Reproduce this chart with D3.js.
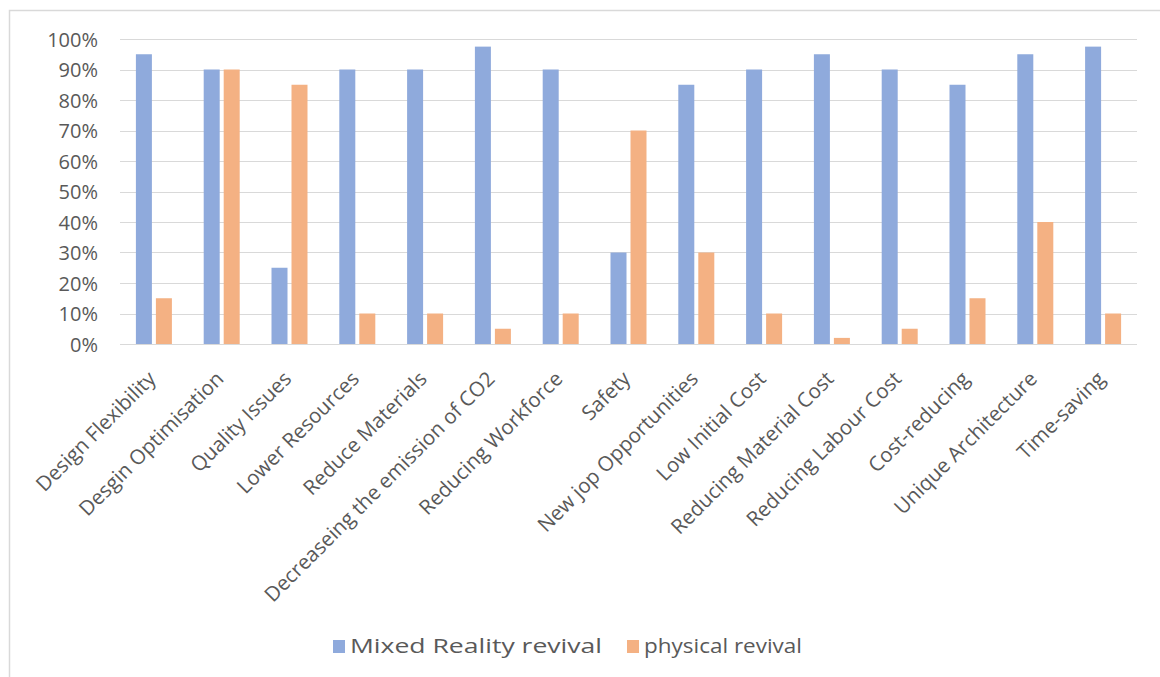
<!DOCTYPE html>
<html>
<head>
<meta charset="utf-8">
<script src="https://cdn.jsdelivr.net/npm/d3@7"></script>
<style>
  body { margin: 0; background: #fff; }
  svg text { font-family: "Open Sans", "Noto Sans", sans-serif; fill: #595959; }
</style>
</head>
<body>
<div id="chart"></div>
<script>
var categories = ["Design Flexibility", "Desgin Optimisation", "Quality Issues", "Lower Resources",
    "Reduce Materials", "Decreaseing the emission of CO2", "Reducing Workforce", "Safety",
    "New jop Opportunities", "Low Initial Cost", "Reducing Material Cost", "Reducing Labour Cost",
    "Cost-reducing", "Unique Architecture", "Time-saving"];
var mixedReality = [0.95, 0.90, 0.25, 0.90, 0.90, 0.975, 0.90, 0.30, 0.85, 0.90, 0.95, 0.90, 0.85, 0.95, 0.975];
var physical = [0.15, 0.90, 0.85, 0.10, 0.10, 0.05, 0.10, 0.70, 0.30, 0.10, 0.02, 0.05, 0.15, 0.40, 0.10];
var seriesNames = ["Mixed Reality revival", "physical revival"];
var seriesColors = ["#8FAADC", "#F4B183"];
var yTicks = [0, 0.1, 0.2, 0.3, 0.4, 0.5, 0.6, 0.7, 0.8, 0.9, 1.0];

var width = 1160, height = 677;
var svg = d3.select("#chart").append("svg")
    .attr("width", width)
    .attr("height", height);

// chart border, runs off the right and bottom edges
svg.append("rect")
    .attr("x", 9.5).attr("y", 10.5)
    .attr("width", 1200).attr("height", 700)
    .attr("fill", "none")
    .attr("stroke", "#d9d9d9")
    .attr("stroke-width", 1.5);

var plotLeft = 120, plotRight = 1137, plotTop = 39, plotBottom = 344;

var x = d3.scaleBand().domain(categories).range([plotLeft, plotRight]);
var y = d3.scaleLinear().domain([0, 1]).range([plotBottom, plotTop]);

// gridlines
svg.append("g").selectAll("line")
    .data(yTicks)
    .enter().append("line")
    .attr("x1", plotLeft).attr("x2", plotRight)
    .attr("y1", function(d) { return Math.round(y(d)) + 0.5; })
    .attr("y2", function(d) { return Math.round(y(d)) + 0.5; })
    .attr("stroke", "#d9d9d9")
    .attr("stroke-width", 1);

var yAxis = svg.append("g")
    .attr("transform", "translate(98,0)")
    .call(d3.axisLeft(y).tickValues(yTicks).tickFormat(d3.format(".0%")).tickSize(0).tickPadding(0));
yAxis.select(".domain").remove();
yAxis.selectAll("text")
    .style("font-size", "20px")
    .attr("dy", "0.35em");

var barW = 16, gap = 4;
var groupW = barW * 2 + gap;
var data = categories.map(function(c, i) { return { cat: c, vals: [mixedReality[i], physical[i]] }; });

var groups = svg.append("g").attr("class", "plot").selectAll("g")
    .data(data)
    .enter().append("g")
    .attr("transform", function(d) {
        return "translate(" + (x(d.cat) + x.bandwidth() / 2 - groupW / 2) + ",0)";
    });

groups.selectAll("rect")
    .data(function(d) { return d.vals; })
    .enter().append("rect")
    .attr("x", function(v, j) { return j * (barW + gap); })
    .attr("y", function(v) { return y(v); })
    .attr("width", barW)
    .attr("height", function(v) { return y(0) - y(v); })
    .attr("fill", function(v, j) { return seriesColors[j]; });

// category labels
var xAxis = svg.append("g")
    .attr("transform", "translate(0," + plotBottom + ")")
    .call(d3.axisBottom(x).tickSize(0));
xAxis.select(".domain").remove();
xAxis.selectAll("text")
    .style("font-size", "20.5px")
    .attr("text-anchor", "end")
    .attr("transform", "translate(-2,31) rotate(-45)")
    .attr("x", 0).attr("y", 0).attr("dy", "0.35em");

// legend
var legend = svg.append("g").attr("transform", "translate(0,646)");
var legendX = [333, 627];
var legendTextW = [252, 158];
seriesNames.forEach(function(name, i) {
    legend.append("rect")
        .attr("x", legendX[i]).attr("y", -6)
        .attr("width", 12).attr("height", 13)
        .attr("fill", seriesColors[i]);
    legend.append("text")
        .attr("x", legendX[i] + 17).attr("y", 0)
        .attr("dy", "0.35em")
        .attr("textLength", legendTextW[i])
        .attr("lengthAdjust", "spacingAndGlyphs")
        .style("font-size", "20px")
        .text(name);
});
</script>
</body>
</html>
